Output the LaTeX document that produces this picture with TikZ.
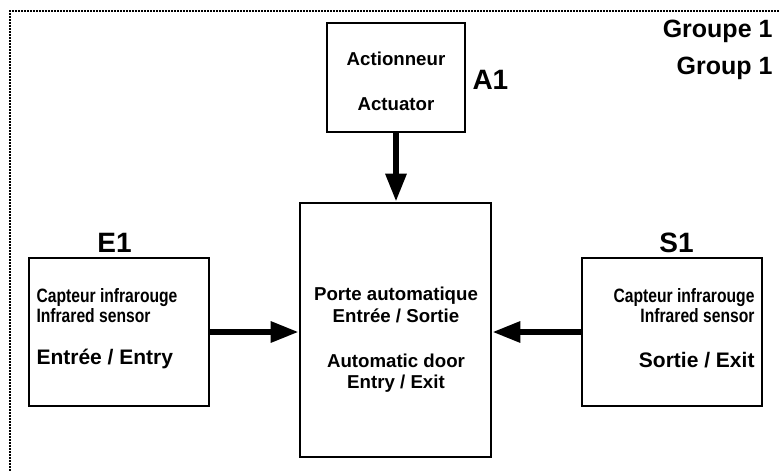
\documentclass[tikz,border=0pt]{standalone}
\usepackage{fontspec}
\setmainfont{Liberation Sans}
\newfontfamily\narrowsans[FakeStretch=0.81]{Liberation Sans}
\usetikzlibrary{arrows.meta}

\tikzset{every picture/.style={line width=0.75pt}}
\tikzset{
  block/.style={draw, line width=2pt, inner sep=0pt},
  flow/.style={line width=4.5pt, -{Triangle[length=21pt,width=15pt]}},
  frameline/.style={line width=1.6pt, dash pattern=on 1.35pt off 0.9pt},
  tagtext/.style={inner sep=0pt, font=\bfseries\fontsize{21}{24}\selectfont},
  grptext/.style={inner sep=0pt, anchor=base east, font=\bfseries\fontsize{18.75}{22}\selectfont},
  boxtext/.style={inner sep=0pt, anchor=base, font=\bfseries\fontsize{14}{16}\selectfont},
  sidetext/.style={inner sep=0pt, font=\bfseries\fontsize{15.75}{18}\selectfont},
  narrowtext/.style={inner sep=0pt, font=\narrowsans\bfseries\fontsize{14.5}{16}\selectfont}
}

\begin{document}
\begin{tikzpicture}[x=0.75pt,y=0.75pt,yscale=-1]
\useasboundingbox (0,0) rectangle (779,471);

%Dotted frame (top and left side)
\draw [frameline]  (10,471) -- (10,11) -- (779,11) ;

%Shape: Rectangle [actuator]
\node [block, minimum width=138*0.75pt, minimum height=109*0.75pt] (act) at (396,77.5) {};
%Shape: Rectangle [door]
\node [block, minimum width=191*0.75pt, minimum height=254*0.75pt] (door) at (395.5,330) {};
%Shape: Rectangle [entry sensor]
\node [block, minimum width=180*0.75pt, minimum height=148*0.75pt] (ent) at (119,332) {};
%Shape: Rectangle [exit sensor]
\node [block, minimum width=180*0.75pt, minimum height=148*0.75pt] (sor) at (672,332) {};

%Straight Lines
\draw [flow]  (act.south) -- (act.south |- door.north) ;
%Straight Lines
\draw [flow]  (ent.east) -- (ent.east -| door.west) ;
%Straight Lines
\draw [flow]  (sor.west) -- (sor.west -| door.east) ;

% Text Node
\node [grptext] (grpFr) at (773,37) {Groupe 1};
% Text Node
\node [grptext] (grpEn) at (773,74) {Group 1};
% Text Node
\node [tagtext, anchor=base west] (tagA) at (472,89) {A1};
% Text Node
\node [tagtext, anchor=base] (tagE) at (114.5,252) {E1};
% Text Node
\node [tagtext, anchor=base] (tagS) at (676.5,252) {S1};
% Text Node
\node [boxtext] (actFr) at (396,65) {Actionneur};
% Text Node
\node [boxtext] (actEn) at (396,110) {Actuator};
% Text Node
\node [boxtext] (doorFr) at (396,300) {Porte automatique};
% Text Node
\node [boxtext] (doorFrIO) at (396,322) {Entrée / Sortie};
% Text Node
\node [boxtext] (doorEn) at (396,367) {Automatic door};
% Text Node
\node [boxtext] (doorEnIO) at (396,388) {Entry / Exit};
% Text Node
\node [narrowtext, anchor=base west] (entFr) at (36,302) {Capteur infrarouge};
% Text Node
\node [narrowtext, anchor=base west] (entEn) at (36,322) {Infrared sensor};
% Text Node
\node [sidetext, anchor=base west] (entIO) at (36,364) {Entrée / Entry};
% Text Node
\node [narrowtext, anchor=base east] (sorFr) at (755,302) {Capteur infrarouge};
% Text Node
\node [narrowtext, anchor=base east] (sorEn) at (755,322) {Infrared sensor};
% Text Node
\node [sidetext, anchor=base east] (sorIO) at (755,367) {Sortie / Exit};

\end{tikzpicture}
\end{document}
